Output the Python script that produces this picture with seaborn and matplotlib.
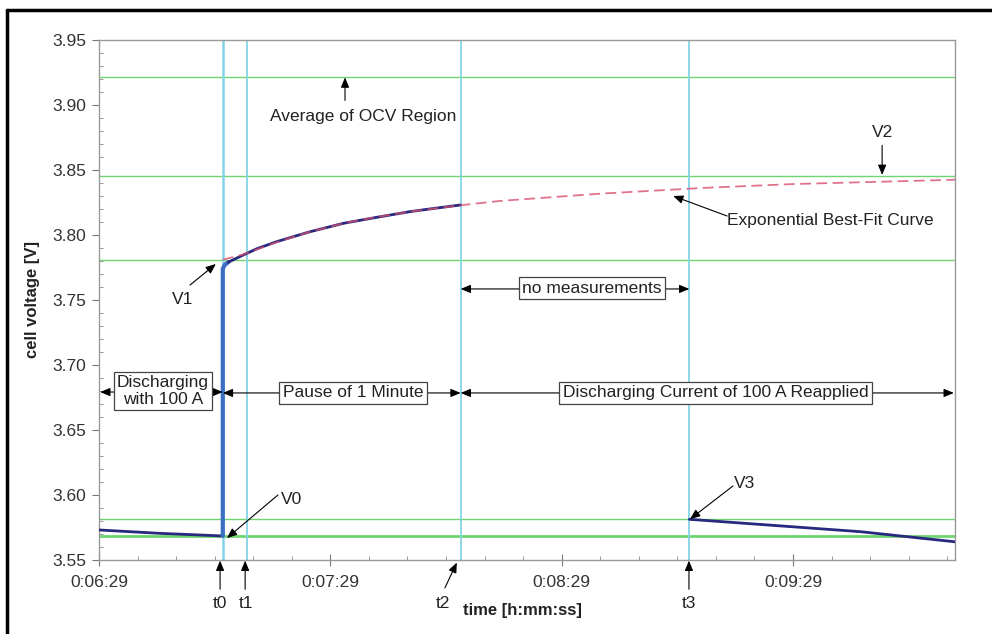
import matplotlib
matplotlib.use("Agg")
import matplotlib.pyplot as plt
import pandas as pd
import seaborn as sns
from matplotlib.ticker import MultipleLocator, FuncFormatter
from matplotlib.lines import Line2D

# ---------------- data (time in s after 0:06:29, voltage in V) ----------------
start_seconds = 6 * 60 + 29

pre_t = [0.0, 15.8, 32.1]
pre_v = [3.5731, 3.5705, 3.5685]

jump_t = [32.1, 32.1, 32.6, 33.5]
jump_v = [3.5685, 3.7740, 3.7770, 3.7790]

pause_t = [33.5, 35.0, 37.4, 41.0, 46.1, 54.7, 63.4, 72.0, 80.7, 87.0, 93.8]
pause_v = [3.7790, 3.7812, 3.7846, 3.7895, 3.7949, 3.8025, 3.8090, 3.8136, 3.8180, 3.8205, 3.8231]

fit_t = [32.1, 37.4, 46.1, 54.7, 63.4, 72.0, 80.7, 93.8, 104.0, 130.0, 156.6, 180.0, 203.0, 222.0]
fit_v = [3.7810, 3.7850, 3.7945, 3.8025, 3.8090, 3.8138, 3.8180, 3.8229, 3.8262, 3.8318, 3.8362, 3.8392, 3.8410, 3.8425]

post_t = [153.1, 197.4, 222.0]
post_v = [3.5813, 3.5718, 3.5640]

event_names = ["t0", "t1", "t2", "t3"]
event_t = [32.1, 38.3, 93.8, 153.1]

level_v = [3.9215, 3.8456, 3.7808, 3.5813]
v0_level = 3.5685

x_major = [0, 60, 120, 180]

# ---------------- style ----------------
sns.set_style("ticks")
plt.rcParams["font.family"] = ["Liberation Sans", "DejaVu Sans"]

W, H = 992, 634
fig = plt.figure(figsize=(W / 100, H / 100), dpi=100)
ax = fig.add_axes([99 / W, 1 - 560 / H, (955 - 99) / W, (560 - 40) / H])

cyan = "#86d3e8"
green = "#6fd66f"
navy = "#27287e"
blue = "#3c6fc2"
red = "#d9506e"

# reference lines
for v in level_v:
    ax.axhline(v, color=green, lw=1.0, zorder=1)
ax.axhline(v0_level, color=green, lw=2.0, zorder=1)
for i, t in enumerate(event_t):
    ax.axvline(t, color=cyan, lw=1.8 if i == 0 else 1.3, zorder=1)

# series
fit_df = pd.DataFrame({"t": fit_t, "v": fit_v})
pre_df = pd.DataFrame({"t": pre_t, "v": pre_v})
jump_df = pd.DataFrame({"t": jump_t, "v": jump_v})
pause_df = pd.DataFrame({"t": pause_t, "v": pause_v})
post_df = pd.DataFrame({"t": post_t, "v": post_v})

sns.lineplot(data=pre_df, x="t", y="v", sort=False, estimator=None, color=navy, lw=2.0, ax=ax, zorder=3)
sns.lineplot(data=jump_df, x="t", y="v", sort=False, estimator=None, color=blue, lw=3.0, ax=ax, zorder=3)
sns.lineplot(data=pause_df, x="t", y="v", sort=False, estimator=None, color=navy, lw=2.0, ax=ax, zorder=3)
sns.lineplot(data=post_df, x="t", y="v", sort=False, estimator=None, color=navy, lw=2.0, ax=ax, zorder=3)
fit_line = sns.lineplot(data=fit_df, x="t", y="v", sort=False, estimator=None, color=red, lw=1.3,
                        ax=ax, zorder=4, alpha=0.8)
ax.lines[-1].set_dashes((6, 3))

# axes
ax.set_xlim(0, 222)
ax.set_ylim(3.55, 3.95)
ax.xaxis.set_major_locator(MultipleLocator(60))
ax.xaxis.set_minor_locator(MultipleLocator(10))
ax.yaxis.set_major_locator(MultipleLocator(0.05))
ax.yaxis.set_minor_locator(MultipleLocator(0.01))


def fmt_time(x, pos):
    s = int(round(x)) + start_seconds
    return f"{s // 3600}:{(s % 3600) // 60:02d}:{s % 60:02d}"


ax.xaxis.set_major_formatter(FuncFormatter(fmt_time))
ax.yaxis.set_major_formatter(FuncFormatter(lambda y, p: f"{y:.2f}"))
ax.set_xlabel("")
ax.set_ylabel("")
for sp in ax.spines.values():
    sp.set_color("#999999")
    sp.set_linewidth(1.0)
ax.tick_params(axis="y", which="major", direction="out", length=5, color="#777777",
               labelcolor="#333333", labelsize=12.5, pad=4)
ax.tick_params(axis="y", which="minor", direction="in", length=3, color="#888888")
ax.tick_params(axis="x", which="major", direction="inout", length=8, color="#777777",
               labelcolor="#333333", labelsize=12.5, pad=7)
ax.tick_params(axis="x", which="minor", direction="in", length=3, color="#888888")

fig.text(33 / W, 1 - 300 / H, "cell voltage [V]", rotation=90, ha="center", va="center",
         fontsize=12, fontweight="bold", color="#222222")
fig.text(522 / W, 1 - 610 / H, "time [h:mm:ss]", ha="center", va="center",
         fontsize=12, fontweight="bold", color="#222222")

# ---------------- annotations ----------------
txt_kw = dict(fontsize=12.5, color="#222222", ha="center", va="center")
arrow_style = "-|>,head_length=0.6,head_width=0.25"


def arrow(x0, y0, x1, y1, style=arrow_style):
    ax.annotate("", xy=(x1, y1), xytext=(x0, y0),
                arrowprops=dict(arrowstyle=style, color="black", lw=0.8,
                                shrinkA=0, shrinkB=0),
                annotation_clip=False, zorder=6)


ax.text(68.5, 3.8915, "Average of OCV Region", **txt_kw)
arrow(63.8, 3.9035, 63.8, 3.9212)

ax.text(203.1, 3.8785, "V2", **txt_kw)
arrow(203.1, 3.8690, 203.1, 3.8462)

ax.text(189.6, 3.8115, "Exponential Best-Fit Curve", **txt_kw)
arrow(162.9, 3.8146, 148.9, 3.8300)

ax.text(21.8, 3.7500, "V1", **txt_kw)
arrow(23.6, 3.7615, 30.3, 3.7777)

ax.text(50.0, 3.5962, "V0", **txt_kw)
arrow(46.4, 3.6000, 33.2, 3.5669)

ax.text(167.5, 3.6092, "V3", **txt_kw)
arrow(164.4, 3.6069, 153.3, 3.5815)

# event labels below the axis
ax.text(31.4, 3.5169, "t0", clip_on=False, **txt_kw)
arrow(31.4, 3.5275, 31.4, 3.5495)
ax.text(38.1, 3.5169, "t1", clip_on=False, **txt_kw)
arrow(37.9, 3.5275, 37.9, 3.5495)
ax.text(89.2, 3.5169, "t2", clip_on=False, **txt_kw)
arrow(89.7, 3.5285, 92.8, 3.5480)
ax.text(153.0, 3.5169, "t3", clip_on=False, **txt_kw)
arrow(153.0, 3.5275, 153.0, 3.5495)

# region double arrows with boxed labels
box = dict(boxstyle="square,pad=0.2", fc="white", ec="#444444", lw=0.9)
dbl = "<|-|>,head_length=0.6,head_width=0.25"

arrow(0.3, 3.6792, event_t[0], 3.6792, dbl)
ax.text(16.6, 3.6800, "Discharging\nwith 100 A", bbox=box, linespacing=1.1, zorder=7, **txt_kw)

arrow(event_t[0], 3.6785, event_t[2], 3.6785, dbl)
ax.text(65.9, 3.6785, "Pause of 1 Minute", bbox=box, zorder=7, **txt_kw)

arrow(event_t[2], 3.6785, 221.7, 3.6785, dbl)
ax.text(159.9, 3.6785, "Discharging Current of 100 A Reapplied", bbox=box, zorder=7, **txt_kw)

arrow(event_t[2], 3.7585, event_t[3], 3.7585, dbl)
ax.text(127.9, 3.7590, "no measurements", bbox=box, zorder=7, **txt_kw)

# outer frame (left and top edges visible)
fig.add_artist(Line2D([7 / W, 7 / W], [0, 1 - 10 / H], transform=fig.transFigure, color="black", lw=2.5))
fig.add_artist(Line2D([7 / W, 1], [1 - 10 / H, 1 - 10 / H], transform=fig.transFigure, color="black", lw=2.5))

fig.savefig("out.png", dpi=100, facecolor="white")
